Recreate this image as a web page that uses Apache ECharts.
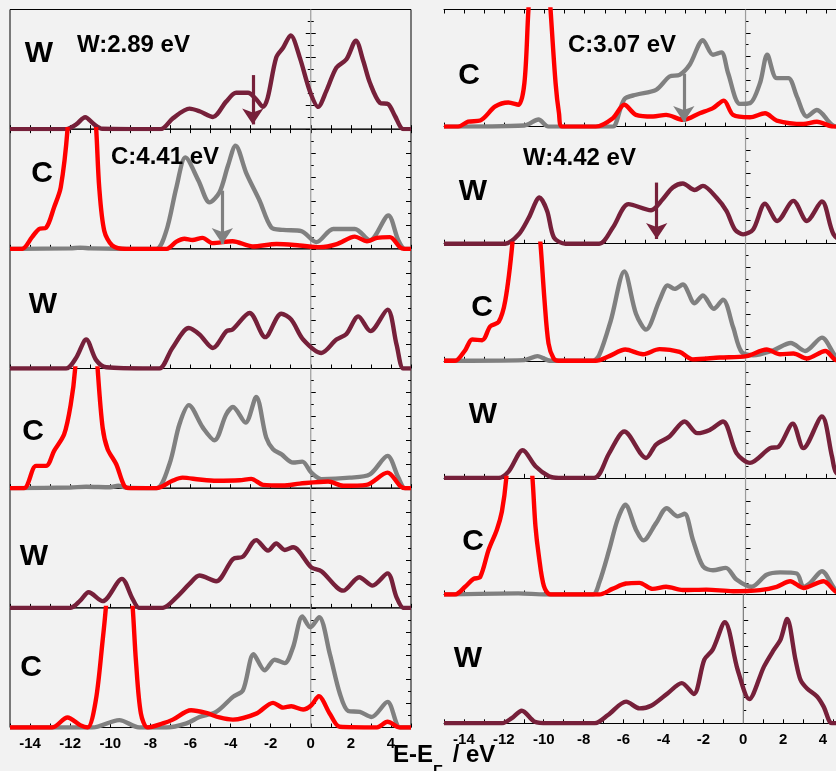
<!DOCTYPE html>
<html>
<head>
<meta charset="utf-8">
<script src="https://cdn.jsdelivr.net/npm/echarts@6/dist/echarts.min.js"></script>
<style>
html, body { margin: 0; padding: 0; background: #f2f2f2; }
#chart { width: 836px; height: 771px; }
</style>
</head>
<body>
<div id="chart"></div>
<script>
// PDOS curves, [E - E_F (eV), DOS in panel units]
// left column
const wL1 = [[-15,0],[-12.2,0],[-11.7,0.2],[-11.25,0.5],[-10.8,0.2],[-10.4,0.02],[-7.5,0],[-6.88,0.45],[-6.05,0.86],[-5.55,0.75],[-4.88,0.51],[-4.22,1.15],[-3.72,1.52],[-3.13,1.52],[-2.72,1.25],[-2.38,0.93],[-2.15,1.3],[-1.72,3.0],[-1.38,3.4],[-1.0,3.92],[-0.55,3.0],[-0.05,1.6],[0.37,0.93],[0.78,1.6],[1.28,2.57],[1.78,2.92],[2.25,3.7],[2.62,2.85],[2.95,1.94],[3.45,1.1],[3.87,1.04],[4.2,0.55],[4.62,0],[5,0]];
const cRedL2 = [[-15,0],[-14.4,0],[-13.9,0.49],[-13.55,0.83],[-13.2,0.88],[-12.8,1.74],[-12.47,2.57],[-12.13,5],[-11.4,14],[-10.7,5],[-10.55,2.57],[-10.3,0.76],[-9.9,0.14],[-9.2,0],[-7.2,0],[-6.7,0.3],[-6.3,0.42],[-5.9,0.37],[-5.4,0.46],[-4.9,0.24],[-3.9,0.32],[-2.9,0.1],[-1.7,0.2],[-0.55,0.14],[0.45,0.07],[1.3,0.2],[2.2,0.51],[2.8,0.32],[3.3,0.46],[3.95,0.49],[4.45,0.07],[4.7,0],[5,0]];
const cGrayL2 = [[-15,0],[-12,0.02],[-11.5,0.05],[-11,0.02],[-9,0],[-7.7,0],[-7.2,0.76],[-6.7,2.57],[-6.25,3.82],[-5.6,2.85],[-5.05,1.94],[-4.55,2.36],[-4.13,3.47],[-3.75,4.31],[-3.2,3.13],[-2.55,2.01],[-1.97,0.9],[-1.38,0.79],[-0.47,0.74],[0.28,0.28],[1.12,0.83],[2.2,0.83],[2.95,0.35],[3.87,1.39],[4.37,0.35],[4.7,0],[5,0]];
const wL3 = [[-15,0],[-12.2,0],[-11.7,0.45],[-11.2,1.21],[-10.7,0.35],[-10.2,0.05],[-8,0],[-7.55,0],[-6.9,0.86],[-6.08,1.69],[-5.55,1.42],[-4.88,0.86],[-4.2,1.56],[-3.9,1.63],[-3.05,2.32],[-2.27,1.31],[-1.47,2.29],[-0.97,2.04],[-0.38,1.21],[0.53,0.65],[1.28,1.21],[1.78,1.44],[2.37,2.18],[2.98,1.56],[3.83,2.46],[4.28,1.0],[4.62,0],[5,0]];
const cRedL4 = [[-15,0],[-14.3,0],[-13.7,0.93],[-13.2,0.93],[-12.8,1.56],[-12.3,2.25],[-11.97,3.5],[-11.75,5],[-11.2,12],[-10.63,5],[-10.38,2.53],[-10.13,1.63],[-9.7,1.0],[-9.3,0.1],[-9.0,0],[-7.7,0],[-6.9,0.31],[-6.4,0.44],[-5.55,0.36],[-4.7,0.31],[-3.55,0.33],[-2.97,0.39],[-2.38,0.14],[-1.38,0.11],[-0.55,0.19],[0.87,0.28],[1.62,0.1],[2.78,0.14],[3.83,0.65],[4.45,0.1],[4.7,0],[5,0]];
const cGrayL4 = [[-15,0],[-12,0.03],[-11.2,0.06],[-10,0.04],[-9.6,0.1],[-9.2,0.02],[-7.7,0],[-7.05,1.0],[-6.55,2.67],[-6.08,3.47],[-5.38,2.53],[-4.8,2.0],[-4.22,3.08],[-3.88,3.39],[-3.25,2.74],[-2.72,3.81],[-2.22,2.11],[-1.88,1.63],[-1.47,1.42],[-0.88,1.07],[-0.42,1.11],[0.03,0.65],[0.53,0.38],[1.95,0.44],[2.95,0.58],[3.83,1.35],[4.37,0.44],[4.7,0],[5,0]];
const wL5 = [[-15,0],[-12,0],[-11.5,0.3],[-11.08,0.65],[-10.38,0.28],[-9.42,1.21],[-8.9,0.4],[-8.55,0],[-7.4,0],[-6.7,0.44],[-6.05,1.0],[-5.55,1.35],[-4.72,1.11],[-3.88,2.04],[-3.38,2.14],[-2.72,2.83],[-2.13,2.39],[-1.72,2.69],[-1.3,2.42],[-0.88,2.53],[0.03,1.69],[0.53,1.53],[1.62,0.72],[2.42,1.28],[3.08,0.93],[3.83,1.44],[4.28,0.44],[4.62,0],[5,0]];
const cRedL6 = [[-15,0],[-12.9,0],[-12.13,0.42],[-11.5,0.1],[-11.13,0],[-10.72,1.14],[-10.38,3.64],[-10.22,5],[-9.55,12],[-8.88,5],[-8.72,2.8],[-8.47,0.58],[-8.13,0],[-7.38,0.17],[-6.88,0.33],[-5.97,0.72],[-5.22,0.61],[-4.55,0.42],[-3.88,0.33],[-2.72,0.58],[-1.88,1.03],[-1.38,0.83],[-0.97,0.89],[-0.38,0.75],[0.03,0.93],[0.4,1.31],[0.95,0.58],[1.45,0.03],[3.3,0],[3.83,0.24],[4.45,0],[5,0]];
const cGrayL6 = [[-15,0],[-10.9,0],[-9.55,0.31],[-8.55,0],[-7.2,0],[-6.2,0.17],[-5.55,0.44],[-4.72,0.65],[-3.88,1.28],[-3.38,1.56],[-2.85,3.06],[-2.3,2.39],[-1.8,2.83],[-1.3,2.69],[-0.88,3.36],[-0.42,4.64],[-0.02,4.19],[0.42,4.61],[0.95,3.08],[1.45,1.42],[1.87,0.69],[2.45,0.65],[3.03,0.44],[3.83,1.07],[4.45,0],[5,0]];
// right column
const cRedR1 = [[-15,0],[-14.3,0],[-13.8,0.21],[-13.2,0.26],[-12.45,0.86],[-11.8,1.03],[-11.3,0.93],[-11.0,1.86],[-10.8,5],[-10.25,12],[-9.7,5],[-9.45,1.86],[-9.28,0.57],[-9.12,0],[-7.45,0],[-6.6,0.36],[-6.03,0.93],[-5.45,0.5],[-4.6,0.43],[-3.95,0.5],[-3.1,0.29],[-2.28,0.57],[-1.62,0.79],[-1.08,1.11],[-0.62,0.5],[0.22,0.4],[0.97,0.57],[1.55,0.26],[2.88,0.11],[3.55,0.21],[4.38,0],[5,0]];
const cGrayR1 = [[-15,0],[-11,0.05],[-10.3,0.3],[-9.8,0],[-6.6,0],[-6.45,0.14],[-6.03,1.17],[-5.45,1.36],[-4.45,1.57],[-3.78,2.14],[-3.28,2.21],[-2.78,2.64],[-2.12,3.69],[-1.62,3.07],[-1.2,3.17],[-0.87,2.29],[-0.28,0.97],[0.22,1.0],[0.72,1.86],[1.08,3.07],[1.55,2.07],[2.13,2.07],[2.55,1.29],[3.05,0.43],[3.55,0.71],[4.22,0.14],[4.5,0],[5,0]];
const wR2 = [[-15,0],[-11.95,0],[-11.28,0.4],[-10.78,1.11],[-10.25,1.97],[-9.87,1.4],[-9.53,0.26],[-8.95,0],[-7.28,0],[-6.6,0.69],[-5.82,1.69],[-4.7,1.43],[-4.12,1.9],[-3.62,2.4],[-3.12,2.57],[-2.53,2.29],[-2.12,2.47],[-1.45,1.97],[-0.95,1.4],[-0.53,0.61],[-0.12,0.4],[0.38,0.61],[0.97,1.71],[1.58,0.97],[2.38,1.83],[3.05,0.97],[3.8,1.8],[4.38,0.4],[5,0]];
const cRedR3 = [[-15,0],[-14.45,0],[-13.95,0.45],[-13.6,0.91],[-13.1,0.88],[-12.7,1.47],[-12.28,1.66],[-11.95,2.58],[-11.6,5],[-10.9,12],[-10.2,5],[-10.0,2.58],[-9.8,0.74],[-9.55,0.1],[-9.3,0],[-7.45,0],[-6.78,0.2],[-5.98,0.48],[-5.1,0.28],[-4.28,0.5],[-3.28,0.38],[-2.62,0.06],[-1.28,0.14],[0.05,0.2],[1.05,0.48],[1.72,0.28],[2.38,0.31],[3.05,0.1],[3.97,0.42],[4.5,0.03],[5,0]];
const cGrayR3 = [[-15,0],[-11,0.03],[-10.35,0.2],[-9.7,0],[-7.6,0],[-7.28,0.24],[-6.7,1.73],[-6.03,3.82],[-5.45,2.01],[-4.95,1.33],[-4.28,2.58],[-3.87,3.22],[-3.53,3.07],[-3.12,3.26],[-2.53,2.46],[-2.12,2.79],[-1.58,2.22],[-1.12,2.61],[-0.62,1.44],[-0.2,0.38],[0.38,0.24],[1.38,0.45],[2.25,0.76],[2.97,0.42],[3.8,0.99],[4.5,0.17],[5,0]];
const wR4 = [[-15,0],[-12.28,0],[-11.78,0.28],[-11.08,1.18],[-10.45,0.5],[-9.78,0.07],[-9.3,0],[-7.53,0],[-6.78,1.06],[-6.03,1.98],[-4.95,0.85],[-4.45,1.42],[-3.78,1.77],[-3.03,2.41],[-2.4,1.91],[-1.78,2.05],[-1.12,2.41],[-0.45,1.06],[0.22,0.64],[1.22,1.27],[1.63,1.32],[2.35,2.31],[2.88,1.27],[3.8,2.62],[4.3,0.92],[4.5,0.24],[5,0]];
const cRedR5 = [[-15,0],[-14.45,0],[-13.95,0.33],[-13.53,0.67],[-13.2,0.75],[-12.78,1.92],[-12.37,2.78],[-12.12,3.56],[-11.9,5],[-11.25,12],[-10.6,5],[-10.45,2.92],[-10.28,1.64],[-10.03,0.36],[-9.7,0],[-7.28,0],[-6.62,0.24],[-5.95,0.47],[-5.28,0.5],[-4.62,0.24],[-3.95,0.33],[-3.12,0.19],[-1.95,0.21],[-0.62,0.14],[0.72,0.19],[1.55,0.33],[2.22,0.57],[2.88,0.28],[3.88,0.57],[4.47,0.14],[5,0]];
const cGrayR5 = [[-15,0],[-11.3,0.05],[-10,0],[-7.6,0],[-7.28,0.5],[-6.78,1.92],[-6.37,3.2],[-5.98,3.85],[-5.45,2.78],[-5.08,2.32],[-4.45,3.06],[-3.92,3.7],[-3.37,3.35],[-3.03,3.46],[-2.62,2.35],[-2.12,1.21],[-1.62,1.04],[-0.98,1.14],[-0.45,0.64],[0.3,0.33],[1.05,0.85],[1.72,0.95],[2.55,0.9],[2.88,0.33],[3.22,0.5],[3.8,1.0],[4.47,0.21],[5,0]];
const wR6 = [[-15,0],[-12.1,0],[-11.6,0.2],[-11.1,0.49],[-10.45,0.06],[-9.8,0],[-7.45,0],[-6.78,0.32],[-5.87,0.84],[-5.2,0.58],[-4.62,0.68],[-3.78,1.17],[-3.08,1.56],[-2.48,1.14],[-1.95,2.47],[-1.53,2.86],[-0.92,3.92],[-0.28,2.08],[0.3,0.94],[1.04,2.2],[1.54,2.86],[1.87,3.25],[2.2,4.05],[2.62,2.47],[2.87,1.69],[3.2,1.35],[3.7,1.04],[4.03,0.65],[4.45,0],[5,0]];

// band-centre markers: [energy, arrow top]
const arrowL1 = [-2.89, 2.26];
const arrowL2 = [-4.41, 2.43];
const arrowR1 = [-3.07, 2.26];
const arrowR2 = [-4.42, 2.61];
// energy window of each column (the right one runs off the page)
const eMin = -15, eMaxLeft = 5, eMaxRight = 4.5, dosMax = 5;

const WCOL = '#76203a', RED = '#ff0000', GRAY = '#808080';
const FONT = '"Liberation Sans", Arial, sans-serif';

// panel layout
const leftTops = [0, 1, 2, 3, 4, 5].map(i => 9.5 + i * 119.67);
const rightTops = [9.5, 126.6, 243.7, 360.8, 477.9, 594.5];
const rightH = [117.1, 117.1, 117.1, 117.1, 116.6, 128.8];

const panels = [
  { col: 0, row: 0, el: 'W', lx: 39, ly: 54, curves: [[wL1, WCOL]], arrow: [arrowL1, WCOL], note: ['W:2.89 eV', 77, 45] },
  { col: 0, row: 1, el: 'C', lx: 42, ly: 174, curves: [[cGrayL2, GRAY], [cRedL2, RED]], arrow: [arrowL2, GRAY], note: ['C:4.41 eV', 111, 157] },
  { col: 0, row: 2, el: 'W', lx: 43, ly: 305, curves: [[wL3, WCOL]] },
  { col: 0, row: 3, el: 'C', lx: 33, ly: 432, curves: [[cGrayL4, GRAY], [cRedL4, RED]] },
  { col: 0, row: 4, el: 'W', lx: 34, ly: 557, curves: [[wL5, WCOL]] },
  { col: 0, row: 5, el: 'C', lx: 31, ly: 668, curves: [[cGrayL6, GRAY], [cRedL6, RED]] },
  { col: 1, row: 0, el: 'C', lx: 469, ly: 76, curves: [[cGrayR1, GRAY], [cRedR1, RED]], arrow: [arrowR1, GRAY], note: ['C:3.07 eV', 568, 45] },
  { col: 1, row: 1, el: 'W', lx: 473, ly: 192, curves: [[wR2, WCOL]], arrow: [arrowR2, WCOL], note: ['W:4.42 eV', 523, 158] },
  { col: 1, row: 2, el: 'C', lx: 482, ly: 308, curves: [[cGrayR3, GRAY], [cRedR3, RED]] },
  { col: 1, row: 3, el: 'W', lx: 483, ly: 415, curves: [[wR4, WCOL]] },
  { col: 1, row: 4, el: 'C', lx: 473, ly: 542, curves: [[cGrayR5, GRAY], [cRedR5, RED]] },
  { col: 1, row: 5, el: 'W', lx: 468, ly: 659, curves: [[wR6, WCOL]] }
];

const grid = [], xAxis = [], yAxis = [], series = [], graphic = [];
const tickStyle = { color: '#000', width: 1 };

function xAx(gi, pos, labels, eMax, line) {
  return {
    gridIndex: gi, type: 'value', position: pos, min: eMin, max: eMax, interval: 1,
    axisLine: { show: line, lineStyle: { color: '#000', width: 1 } }, splitLine: { show: false },
    axisTick: { show: true, inside: true, length: 4, lineStyle: tickStyle },
    axisLabel: {
      show: labels, margin: 9, color: '#000', fontSize: 15, fontWeight: 'bold', fontFamily: FONT,
      formatter: v => (v % 2 === 0 && v > eMin && v < 5) ? String(v) : ''
    }
  };
}
function yAx(gi, pos, line) {
  return {
    gridIndex: gi, type: 'value', position: pos, min: 0, max: dosMax, interval: 1,
    axisLine: { show: line, lineStyle: { color: '#000', width: 1 } }, splitLine: { show: false }, axisLabel: { show: false },
    axisTick: { show: true, inside: true, length: 5, lineStyle: tickStyle },
    minorTick: { show: true, splitNumber: 2, length: 3, lineStyle: tickStyle }
  };
}

panels.forEach((p, i) => {
  const left = p.col === 0 ? 10 : 444;
  const width = p.col === 0 ? 401 : 392;
  const top = p.col === 0 ? leftTops[p.row] : rightTops[p.row];
  const height = p.col === 0 ? 119.67 : rightH[p.row];
  // left column is a closed box; right column is cut by the page edge
  grid.push({ left, top, width, height, show: p.col === 0, borderColor: '#000', borderWidth: 1, backgroundColor: 'transparent', containLabel: false });
  xAxis.push(xAx(i, 'bottom', p.row === 5, p.col === 0 ? eMaxLeft : eMaxRight, p.col === 1));
  yAxis.push(yAx(i, 'left', p.col === 1));
});
// extra tick axes: top edge of the first panels, right edge of the left column
panels.forEach((p, i) => { if (p.row === 0) xAxis.push(xAx(i, 'top', false, p.col === 0 ? eMaxLeft : eMaxRight, p.col === 1)); });
panels.forEach((p, i) => { if (p.col === 0) yAxis.push(yAx(i, 'right', false)); });

panels.forEach((p, i) => {
  // Fermi level
  series.push({
    type: 'line', xAxisIndex: i, yAxisIndex: i, data: [[0, 0], [0, dosMax]],
    showSymbol: false, symbol: 'none', silent: true, z: 1,
    lineStyle: { color: '#9c9c9c', width: 1.2, type: 'solid' }
  });
  p.curves.forEach(([d, c], k) => {
    const s = {
      type: 'line', xAxisIndex: i, yAxisIndex: i, data: d, smooth: 0.3,
      showSymbol: false, symbol: 'none', clip: true, z: 2 + k,
      lineStyle: { color: c, width: 4.4 }
    };
    if (p.arrow && p.arrow[1] === c) {
      const [e, topV] = p.arrow[0];
      s.markLine = {
        silent: true, symbol: ['none', 'arrow'], symbolSize: 16, label: { show: false },
        lineStyle: { color: c, width: 3.2, type: 'solid' }, z: 5,
        data: [[{ coord: [e, topV] }, { coord: [e, 0.2] }]]
      };
    }
    series.push(s);
  });
  graphic.push({
    type: 'text', x: p.lx, y: p.ly, z: 10,
    style: { text: p.el, font: 'bold 30px ' + FONT, fill: '#000', align: 'center', verticalAlign: 'middle' }
  });
  if (p.note) {
    graphic.push({
      type: 'text', x: p.note[1], y: p.note[2], z: 10,
      style: { text: p.note[0], font: 'bold 24px ' + FONT, fill: '#000', align: 'left', verticalAlign: 'middle' }
    });
  }
});

// x axis title E-E_F / eV
graphic.push(
  { type: 'text', x: 393, y: 755, style: { text: 'E-E', font: 'bold 24px ' + FONT, fill: '#000', align: 'left', verticalAlign: 'middle' } },
  { type: 'text', x: 433, y: 773, style: { text: 'F', font: 'bold 16px ' + FONT, fill: '#000', align: 'left', verticalAlign: 'middle' } },
  { type: 'text', x: 446, y: 755, style: { text: ' / eV', font: 'bold 24px ' + FONT, fill: '#000', align: 'left', verticalAlign: 'middle' } }
);

const chart = echarts.init(document.getElementById('chart'));
chart.setOption({
  backgroundColor: '#f2f2f2',
  animation: false,
  grid, xAxis, yAxis, series, graphic
});
</script>
</body>
</html>
